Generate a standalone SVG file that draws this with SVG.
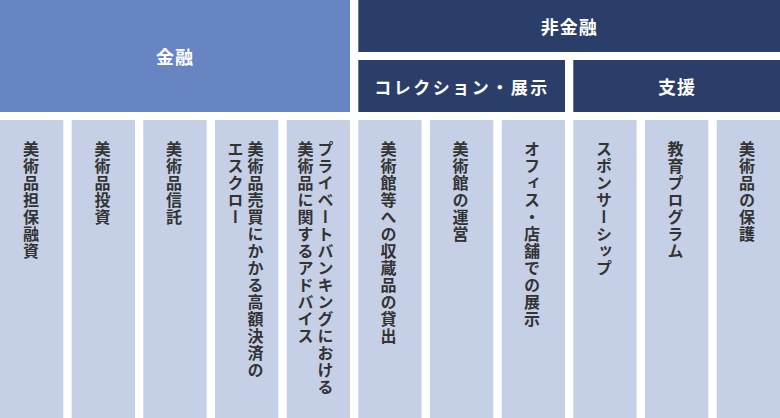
<svg xmlns="http://www.w3.org/2000/svg" width="780" height="418" viewBox="0 0 780 418">
<style>
.bg{fill:#ffffff}
.fin{fill:#6785c2}
.dark{fill:#2b3e69}
.col{fill:#c5d0e7}
.h{font-family:"Noto Sans CJK JP","Noto Sans",sans-serif;font-weight:700;fill:#ffffff;text-anchor:middle;dominant-baseline:central}
.v{font-family:"Noto Sans CJK JP","Noto Sans",sans-serif;font-weight:700;font-size:16px;letter-spacing:1px;fill:#333333;writing-mode:vertical-rl}
</style>
<rect class="bg" x="0" y="0" width="780" height="418"/>
<g id="header-finance">
<rect class="fin" x="0" y="0" width="350" height="112"/>
<text class="h" x="175" y="56" font-size="18" letter-spacing="1">金融</text>
</g>
<g id="header-nonfinance">
<rect class="dark" x="358.3" y="0" width="421.7" height="52"/>
<text class="h" x="569.2" y="26" font-size="18" letter-spacing="1">非金融</text>
</g>
<g id="header-collection">
<rect class="dark" x="358.3" y="60" width="206.7" height="52"/>
<text class="h" x="462" y="86" font-size="17" letter-spacing="2.5">コレクション・展示</text>
</g>
<g id="header-support">
<rect class="dark" x="573.3" y="60" width="206.7" height="52"/>
<text class="h" x="677" y="86" font-size="18" letter-spacing="1">支援</text>
</g>
<g id="col-1">
<rect class="col" x="0" y="120" width="63.3" height="298"/>
<text class="v" x="31" y="141">美術品担保融資</text>
</g>
<g id="col-2">
<rect class="col" x="71.7" y="120" width="63.3" height="298"/>
<text class="v" x="102.5" y="141">美術品投資</text>
</g>
<g id="col-3">
<rect class="col" x="143.3" y="120" width="63.3" height="298"/>
<text class="v" x="174" y="141">美術品信託</text>
</g>
<g id="col-4">
<rect class="col" x="215" y="120" width="63.3" height="298"/>
<text class="v" x="255.5" y="141">美術品売買にかかる高額決済の</text>
<text class="v" x="235.5" y="141">エスクロー</text>
</g>
<g id="col-5">
<rect class="col" x="286.7" y="120" width="63.3" height="298"/>
<text class="v" x="325.5" y="141">プライベートバンキングにおける</text>
<text class="v" x="305.5" y="141">美術品に関するアドバイス</text>
</g>
<g id="col-6">
<rect class="col" x="358.3" y="120" width="63.3" height="298"/>
<text class="v" x="388.5" y="141">美術館等への収蔵品の貸出</text>
</g>
<g id="col-7">
<rect class="col" x="430" y="120" width="63.3" height="298"/>
<text class="v" x="460.5" y="141">美術館の運営</text>
</g>
<g id="col-8">
<rect class="col" x="501.7" y="120" width="63.3" height="298"/>
<text class="v" x="532" y="141">オフィス・店舗での展示</text>
</g>
<g id="col-9">
<rect class="col" x="573.3" y="120" width="63.3" height="298"/>
<text class="v" x="604" y="141">スポンサーシップ</text>
</g>
<g id="col-10">
<rect class="col" x="645" y="120" width="63.3" height="298"/>
<text class="v" x="675.5" y="141">教育プログラム</text>
</g>
<g id="col-11">
<rect class="col" x="716.7" y="120" width="63.3" height="298"/>
<text class="v" x="747" y="141">美術品の保護</text>
</g>
<g id="connectors"></g>
</svg>
